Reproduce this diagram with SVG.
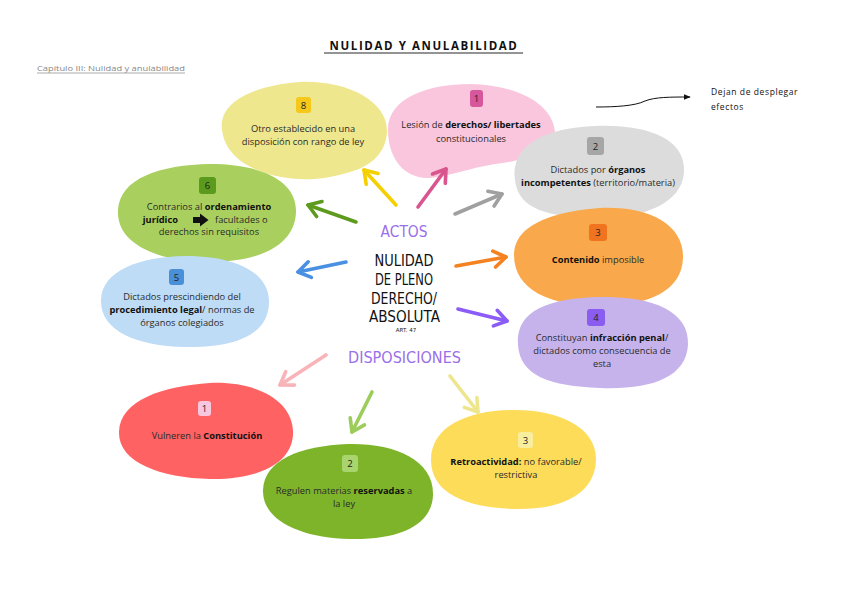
<svg xmlns="http://www.w3.org/2000/svg" width="848" height="599" viewBox="0 0 848 599">
<defs>
<style>
.t{font-family:"Open Sans","Noto Sans",sans-serif;font-size:9.3px;fill:#2a2a2a;text-anchor:middle}
.b{font-weight:bold;fill:#111}
.n{font-family:"Open Sans","Noto Sans",sans-serif;font-size:9.5px;fill:#222;text-anchor:middle}
.c{font-family:"DejaVu Sans","Liberation Sans",sans-serif;font-size:16px;text-anchor:middle;fill:#111}
.p{fill:#9A6FEA}
.ar{fill:none;stroke-width:3.6;stroke-linecap:round;stroke-linejoin:round}
</style>
<marker id="ah" viewBox="0 0 10 10" refX="9" refY="5" markerWidth="7" markerHeight="7" orient="auto" markerUnits="userSpaceOnUse">
<path d="M0,1 L10,5 L0,9 Z" fill="#111"/>
</marker>
</defs>
<rect width="848" height="599" fill="#fff"/>

<g id="title">
<text x="424" y="50" font-family="'Open Sans','Noto Sans',sans-serif" font-size="11.5" font-weight="bold" letter-spacing="1.6" text-anchor="middle" fill="#111">NULIDAD Y ANULABILIDAD</text>
<line x1="324" y1="53" x2="523" y2="53" stroke="#111" stroke-width="0.9"/>
<text x="37" y="71" font-family="'Open Sans','Noto Sans',sans-serif" font-size="7.6" fill="#888" textLength="148" lengthAdjust="spacingAndGlyphs">Capítulo III: Nulidad y anulabilidad</text>
<line x1="37" y1="73" x2="185" y2="73" stroke="#888" stroke-width="0.7"/>
</g>

<g id="nota">
<text x="711" y="95" font-family="'Open Sans','Noto Sans',sans-serif" font-size="8.5" letter-spacing="0.6" fill="#111">Dejan de desplegar</text>
<text x="711" y="110" font-family="'Open Sans','Noto Sans',sans-serif" font-size="8.5" letter-spacing="0.6" fill="#111">efectos</text>
</g>

<g id="acto8">
<path d="M222,130 C218,100 258,85 300,82 C345,80 388,100 387,132 C386,152 372,166 350,172 C330,178 315,180 300,179 C262,177 226,162 222,130 Z" fill="#EFE78E"/>
<rect x="296" y="97" width="15" height="16" rx="3" fill="#F6C81A"/>
<text class="n" x="303.5" y="108.5">8</text>
<text class="t" x="303" y="132">Otro establecido en una</text>
<text class="t" x="303" y="145">disposición con rango de ley</text>
</g>

<g id="acto1">
<path d="M388,132 C386,98 428,84 470,84 C520,85 553,105 555,132 C557,150 530,160 495,164 C470,168 450,176 430,178 C405,179 389,160 388,132 Z" fill="#F9C6DE"/>
<rect x="470" y="90" width="13" height="17" rx="3" fill="#D6579B"/>
<text class="n" x="476.5" y="102">1</text>
<text class="t" x="471" y="128">Lesión de <tspan class="b">derechos/ libertades</tspan></text>
<text class="t" x="471" y="142">constitucionales</text>
</g>

<g id="acto2">
<path d="M515,180 C510,145 545,128 595,126 C650,124 686,140 684,172 C682,205 640,219 595,218 C550,217 518,210 515,180 Z" fill="#DCDCDC"/>
<rect x="587" y="137" width="17" height="18" rx="3" fill="#A6A6A6"/>
<text class="n" x="595.5" y="150">2</text>
<text class="t" x="598" y="173">Dictados por <tspan class="b">órganos</tspan></text>
<text class="t" x="598" y="186"><tspan class="b">incompetentes</tspan> (territorio/materia)</text>
</g>

<g id="acto3">
<path d="M514,255 C514,222 560,211 600,208 C650,206 684,225 683,258 C682,290 650,306 600,306 C550,306 514,290 514,255 Z" fill="#F9A94B"/>
<rect x="589" y="224" width="18" height="17" rx="3" fill="#F07420"/>
<text class="n" x="598" y="236">3</text>
<text class="t" x="598" y="263"><tspan class="b">Contenido</tspan> imposible</text>
</g>

<g id="acto4">
<path d="M518,345 C515,310 550,298 600,297 C650,296 690,310 688,345 C686,378 650,390 600,388 C550,386 520,376 518,345 Z" fill="#C7B3EC"/>
<rect x="587" y="309" width="18" height="17" rx="3" fill="#8A5CF0"/>
<text class="n" x="596" y="321">4</text>
<text class="t" x="602" y="341">Constituyan <tspan class="b">infracción penal</tspan>/</text>
<text class="t" x="602" y="354">dictados como consecuencia de</text>
<text class="t" x="602" y="367">esta</text>
</g>

<g id="acto6">
<path d="M118,210 C120,178 160,165 210,164 C260,164 297,180 296,212 C295,245 260,262 210,262 C160,262 116,245 118,210 Z" fill="#A9D05E"/>
<rect x="199" y="177" width="17" height="17" rx="3" fill="#5A9A1C"/>
<text class="n" x="207.5" y="189">6</text>
<text class="t" x="209" y="210">Contrarios al <tspan class="b">ordenamiento</tspan></text>
<text class="t b" x="178" y="223" style="text-anchor:end">jurídico</text>
<path d="M193,217 L200,217 L200,213.5 L208.5,220 L200,226.5 L200,223 L193,223 Z" fill="#111"/>
<text class="t" x="215" y="223" style="text-anchor:start">facultades o</text>
<text class="t" x="209" y="235">derechos sin requisitos</text>
</g>

<g id="acto5">
<path d="M101,300 C102,270 140,257 185,256 C235,256 270,272 269,303 C268,335 235,348 185,347 C135,346 100,330 101,300 Z" fill="#BEDCF6"/>
<rect x="169" y="269" width="15" height="16" rx="3" fill="#4A90D9"/>
<text class="n" x="176.5" y="280.5">5</text>
<text class="t" x="182" y="300">Dictados prescindiendo del</text>
<text class="t" x="182" y="313"><tspan class="b">procedimiento legal</tspan>/ normas de</text>
<text class="t" x="182" y="326">órganos colegiados</text>
</g>

<g id="disp1">
<path d="M119,432 C120,400 163,386 210,383 C255,381 295,400 293,435 C291,465 255,480 210,479 C160,478 118,462 119,432 Z" fill="#FF6262"/>
<rect x="198" y="401" width="13" height="15" rx="3" fill="#F7C7E0"/>
<text class="n" x="204.5" y="412">1</text>
<text class="t" x="207" y="439">Vulneren la <tspan class="b">Constitución</tspan></text>
</g>

<g id="disp2">
<path d="M263,490 C264,460 300,446 348,444 C395,443 434,460 433,495 C432,525 400,540 350,539 C300,538 262,520 263,490 Z" fill="#7DB42A"/>
<rect x="342" y="455" width="16" height="17" rx="3" fill="#A9D46E"/>
<text class="n" x="350" y="467">2</text>
<text class="t" x="344" y="494">Regulen materias <tspan class="b">reservadas</tspan> a</text>
<text class="t" x="344" y="507">la ley</text>
</g>

<g id="disp3">
<path d="M431,460 C431,425 470,410 515,410 C560,410 597,428 596,460 C595,495 560,510 515,509 C470,508 431,495 431,460 Z" fill="#FDDC5A"/>
<rect x="518" y="432" width="15" height="16" rx="3" fill="#F9EE9E"/>
<text class="n" x="525.5" y="443.5">3</text>
<text class="t" x="516" y="465"><tspan class="b">Retroactividad:</tspan> no favorable/</text>
<text class="t" x="516" y="478">restrictiva</text>
</g>

<g id="connectors">
<path d="M596,107 C615,107 635,106 645,101 C655,97 670,97 690,97" fill="none" stroke="#111" stroke-width="1" marker-end="url(#ah)"/>
<g class="ar" stroke="#F5D000"><path d="M396,205 L364,170"/><path d="M378,173.5 L364,170 L366.2,184.3"/></g>
<g class="ar" stroke="#D9558E"><path d="M418,207 L446,169"/><path d="M445.3,183.4 L446,169 L432.5,174"/></g>
<g class="ar" stroke="#A0A0A0"><path d="M455,214 L502,194"/><path d="M494.1,206.1 L502,194 L487.9,191.3"/></g>
<g class="ar" stroke="#5E9A1E"><path d="M356,222 L308,205"/><path d="M322,201.5 L308,205 L316.6,216.5"/></g>
<g class="ar" stroke="#4A90E2"><path d="M346,262 L298,272"/><path d="M311.4,277.4 L298,272 L308.2,261.8"/></g>
<g class="ar" stroke="#F58220"><path d="M456,266 L506,257"/><path d="M495.6,267 L506,257 L492.8,251.2"/></g>
<g class="ar" stroke="#8B5CF6"><path d="M458,309 L507,321"/><path d="M493.4,325.9 L507,321 L497.2,310.3"/></g>
<g class="ar" stroke="#F8B4B8"><path d="M326,355 L280,385"/><path d="M294.5,385.1 L280,385 L285.7,371.7"/></g>
<g class="ar" stroke="#9CCC5A"><path d="M372,392 L352,432"/><path d="M364.5,424.9 L352,432 L350.2,417.7"/></g>
<g class="ar" stroke="#EEE68C"><path d="M450,376 L478,412"/><path d="M464.3,407.4 L478,412 L476.9,397.6"/></g>
</g>

<g id="centro">
<text class="c p" x="404" y="237" textLength="47" lengthAdjust="spacingAndGlyphs">ACTOS</text>
<text class="c" x="404" y="266" textLength="59" lengthAdjust="spacingAndGlyphs">NULIDAD</text>
<text class="c" x="404" y="285" textLength="58" lengthAdjust="spacingAndGlyphs">DE PLENO</text>
<text class="c" x="404" y="304" textLength="66" lengthAdjust="spacingAndGlyphs">DERECHO/</text>
<text class="c" x="404.5" y="322" textLength="71" lengthAdjust="spacingAndGlyphs">ABSOLUTA</text>
<text x="406" y="332" font-family="'DejaVu Sans',sans-serif" font-size="5.5" text-anchor="middle" fill="#222">ART. 47</text>
<text class="c p" x="404.5" y="363" textLength="113" lengthAdjust="spacingAndGlyphs">DISPOSICIONES</text>
</g>
</svg>
